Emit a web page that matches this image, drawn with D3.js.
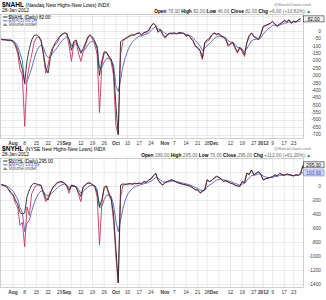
<!DOCTYPE html>
<html>
<head>
<meta charset="utf-8">
<script src="https://cdnjs.cloudflare.com/ajax/libs/d3/7.8.5/d3.min.js"></script>
<style>
body { margin: 0; background: #fff; }
svg { display: block; font-family: "Liberation Sans", Arial, sans-serif; }
</style>
</head>
<body>
<svg id="chart" width="326" height="300"></svg>
<script>
// trading days, Jul 25 2011 - Jan 27 2012
var tradeMonths = [
    ["2011-07", [25,26,27,28,29]],
    ["2011-08", [1,2,3,4,5,8,9,10,11,12,15,16,17,18,19,22,23,24,25,26,29,30,31]],
    ["2011-09", [1,2,6,7,8,9,12,13,14,15,16,19,20,21,22,23,26,27,28,29,30]],
    ["2011-10", [3,4,5,6,7,10,11,12,13,14,17,18,19,20,21,24,25,26,27,28,31]],
    ["2011-11", [1,2,3,4,7,8,9,10,11,14,15,16,17,18,21,22,23,25,28,29,30]],
    ["2011-12", [1,2,5,6,7,8,9,12,13,14,15,16,19,20,21,22,23,27,28,29,30]],
    ["2012-01", [3,4,5,6,9,10,11,12,13,17,18,19,20,23,24,25,26,27]]
];

// $NAHL
var nahlRed = [
    -58, -62, -60, -66, -64,
    -72, -100, -150, -260, -300,
    -645, -320, -230, -160, -80,
    -45, -40, -70, -160, -285,
    -230, -150, -110, -95, -75,
    -40, -25, -15, -20, -100,
    -205, -80, -70, -150,
    -205, -140, -95, -50, -28,
    -55, -90, -160, -552, -230,
    -150, -145, -180, -210, -300,
    -640, -700, -160, -70, -55,
    -45, -35, -26, -30, -18,
    -15, -30, -12, -10, 0,
    30, 52, 40, -10, 5,
    -26, -49, -30, -15, -18,
    -15, -20, -12, -15, -18,
    -37, -30, -49, -70, -105,
    -120, -139, -195,
    -82, -70, -60, -30, -15,
    -26, -20, -37, -45, -60,
    -105, -90, -82, -120, -150,
    -116, -140, -172, -82, -37,
    -15, -40, -49, -60,
    -26, 30, 35, 41,
    50, 63, 45, 30, 45,
    55, 70, 60, 75,
    50, 65, 60, 76, 82
];
var nahlBlack = [
    -55, -58, -60, -62, -62,
    -70, -90, -130, -200, -260,
    -350, -200, -120, -60, -30,
    -26, -35, -60, -150, -250,
    -284, -180, -120, -80, -60,
    -35, -20, -13, -15, -60,
    -130, -70, -60, -110,
    -150, -120, -80, -40, -26,
    -40, -70, -120, -300, -200,
    -140, -143, -170, -190, -260,
    -500, -700, -71, -60, -50,
    -40, -30, -26, -25, -15,
    -12, -25, -10, -5, 5,
    35, 50, 35, -5, 10,
    -20, -40, -25, -15, -15,
    -12, -18, -10, -12, -15,
    -30, -28, -45, -65, -100,
    -110, -130, -180,
    -75, -60, -50, -25, -12,
    -20, -18, -30, -40, -55,
    -95, -85, -75, -110, -140,
    -110, -130, -160, -75, -30,
    -12, -35, -45, -55,
    -20, 32, 38, 45,
    52, 65, 48, 35, 48,
    58, 72, 62, 78,
    55, 68, 62, 76, 82
];
var nahlEma = [
    -55, -57, -58, -60, -61,
    -65, -77, -100, -150, -200,
    -360, -340, -300, -250, -190,
    -140, -110, -95, -110, -160,
    -180, -170, -150, -130, -110,
    -85, -65, -50, -40, -55,
    -100, -95, -85, -105,
    -135, -135, -120, -95, -75,
    -70, -75, -100, -250, -245,
    -210, -185, -185, -195, -230,
    -370, -410, -330, -240, -180,
    -135, -100, -75, -60, -45,
    -35, -33, -26, -20, -13,
    2, 20, 27, 14, 11,
    -1, -17, -21, -19, -19,
    -18, -18, -16, -16, -17,
    -23, -26, -33, -45, -65,
    -83, -102, -133,
    -116, -100, -87, -68, -50,
    -42, -35, -36, -39, -46,
    -66, -74, -77, -91, -111,
    -113, -122, -139, -120, -92,
    -66, -58, -55, -56,
    -46, -21, -2, 13,
    25, 38, 40, 37, 40,
    45, 53, 55, 62,
    58, 60, 60, 65, 68.04
];

// $NYHL
var nyhlRed = [
    14, 5, -10, -50, -104,
    -130, -250, -300, -560, -520,
    -867, -300, -420, -110, -40,
    10, 14, 5, -110, -224,
    -160, -80, -33, 10, 39,
    55, 61, 45, -10, -104,
    14, 0, -10, -120,
    -224, -20, 14, 39, 45,
    14, -10, -160, -843, -243,
    -10, 0, -129, -200, -500,
    -1000, -1386, -170, 14, 20,
    25, 30, 25, 35, 30,
    39, 30, 61, 50, 80,
    100, 140, 181, 86, 39,
    10, 45, 61, 75, 86,
    70, 50, 39, 30, 20,
    14, 5, -10, -33, -57,
    -60, -104, -80, -57,
    86, 61, 75, 110, 133,
    120, 100, 61, 75, 55,
    39, 30, 10, 0, -10,
    61, 45, 181, 160, 229,
    157, 180, 204, 160,
    86, 100, 110, 120,
    130, 157, 140, 181, 160,
    150, 170, 160, 150,
    140, 160, 150, 183, 295
];
var nyhlBlack = [
    20, 10, -5, -40, -90,
    -120, -200, -260, -380, -400,
    -386, -150, -57, 14, 39,
    30, 20, 10, -80, -180,
    -200, -100, -20, 20, 50,
    61, 55, 40, 0, -60,
    10, 5, -20, -90,
    -150, -10, 20, 45, 39,
    20, 0, -100, -296, -200,
    -30, 0, -100, -180, -400,
    -900, -1386, 14, 30, 25,
    30, 35, 28, 40, 35,
    42, 35, 65, 55, 85,
    105, 150, 181, 90, 45,
    15, 50, 65, 80, 90,
    72, 55, 42, 32, 22,
    16, 8, -5, -28, -50,
    -55, -95, -75, -50,
    90, 65, 80, 115, 140,
    125, 105, 65, 78, 58,
    42, 32, 12, 2, -5,
    65, 50, 185, 165, 229,
    160, 185, 204, 165,
    90, 105, 115, 125,
    135, 160, 145, 181, 165,
    155, 172, 165, 155,
    145, 162, 155, 183, 295
];
var nyhlEma = [
    20, 15, 7, -12, -42,
    -72, -130, -185, -310, -380,
    -653, -530, -490, -360, -250,
    -165, -105, -70, -80, -130,
    -140, -118, -90, -55, -25,
    0, 20, 28, 15, -25,
    -10, -5, -5, -45,
    -105, -75, -45, -15, 5,
    8, 2, -50, -310, -290,
    -195, -130, -130, -150, -270,
    -500, -653, -490, -320, -200,
    -120, -70, -40, -15, 0,
    13, 20, 33, 40, 53,
    70, 93, 122, 110, 85,
    60, 55, 57, 63, 70,
    70, 63, 55, 47, 38,
    30, 22, 11, -4, -22,
    -35, -58, -65, -62,
    -13, 12, 33, 58, 83,
    95, 97, 85, 82, 73,
    62, 51, 37, 25, 13,
    29, 34, 83, 109, 149,
    152, 161, 175, 170,
    142, 128, 122, 121,
    124, 135, 137, 151, 154,
    153, 159, 159, 156,
    151, 154, 153, 163, 193.69
];

// axis labels
var xTickDates = ["2011-08-01","2011-08-08","2011-08-15","2011-08-22","2011-08-29","2011-09-01",
    "2011-09-12","2011-09-19","2011-09-26","2011-10-03","2011-10-10","2011-10-17","2011-10-24",
    "2011-11-01","2011-11-07","2011-11-14","2011-11-21","2011-11-28","2011-12-01","2011-12-12",
    "2011-12-19","2011-12-27","2012-01-03","2012-01-09","2012-01-17","2012-01-23"];
var xTickLabels = ["Aug","8","15","22","29","Sep","12","19","26","Oct","10","17","24",
    "Nov","7","14","21","28","Dec","12","19","27","2012","9","17","23"];
var xMonthLabels = ["Aug","Sep","Oct","Nov","Dec","2012"];
var gridWeeks = ["2011-08-01","2011-08-08","2011-08-15","2011-08-22","2011-08-29","2011-09-06",
    "2011-09-12","2011-09-19","2011-09-26","2011-10-03","2011-10-10","2011-10-17","2011-10-24",
    "2011-10-31","2011-11-07","2011-11-14","2011-11-21","2011-11-28","2011-12-05","2011-12-12",
    "2011-12-19","2011-12-27","2012-01-03","2012-01-09","2012-01-17","2012-01-23"];
var nahlTicks = [0,-50,-100,-150,-200,-250,-300,-350,-400,-450,-500,-550,-600,-650,-700];
var nahlGrid = [100,50,0,-50,-100,-150,-200,-250,-300,-350,-400,-450,-500,-550,-600,-650,-700];
var nyhlTicks = [0,-200,-400,-600,-800,-1000,-1200,-1400];
var nyhlGrid = [200,0,-200,-400,-600,-800,-1000,-1200,-1400];

var dates = [];
tradeMonths.forEach(function(m) {
    m[1].forEach(function(d) { dates.push(m[0] + "-" + (d < 10 ? "0" + d : d)); });
});

var svg = d3.select("#chart");
var xScale = d3.scalePoint().domain(dates).range([1.3, 303]);
var left = 0.5, right = 303.5;

function panel(opt) {
    var g = svg.append("g");
    var y = d3.scaleLinear().domain(opt.domain).range([opt.bottom, opt.top]);

    // grid
    g.selectAll(".hg").data(opt.grid).enter().append("line")
        .attr("x1", left).attr("x2", right)
        .attr("y1", function(d) { return Math.round(y(d)) + 0.5; })
        .attr("y2", function(d) { return Math.round(y(d)) + 0.5; })
        .style("stroke", "#dcdcdc").style("stroke-width", 0.6);
    g.selectAll(".vg").data(gridWeeks).enter().append("line")
        .attr("x1", function(d) { return xScale(d); })
        .attr("x2", function(d) { return xScale(d); })
        .attr("y1", opt.top).attr("y2", opt.bottom)
        .style("stroke", "#dcdcdc").style("stroke-width", 0.6);
    g.append("rect")
        .attr("x", left).attr("y", opt.top + 0.5)
        .attr("width", right - left).attr("height", opt.bottom - opt.top)
        .style("fill", "none").style("stroke", "#b0b0b0").style("stroke-width", 0.6);

    // y labels
    g.selectAll(".yl").data(opt.ticks).enter().append("text")
        .attr("x", 321).attr("y", function(d) { return y(d) + 1.7; })
        .attr("text-anchor", "end")
        .style("font-size", "4.8px").style("fill", "#444")
        .text(function(d) { return d; });

    // x labels
    g.selectAll(".xl").data(xTickDates).enter().append("text")
        .attr("x", function(d) { return xScale(d); })
        .attr("y", opt.bottom + 6.5)
        .attr("text-anchor", "middle")
        .style("font-size", "4.8px")
        .style("font-weight", function(d, i) { return xMonthLabels.indexOf(xTickLabels[i]) >= 0 ? "bold" : "normal"; })
        .style("fill", "#333")
        .text(function(d, i) { return xTickLabels[i]; });

    // lines
    var line = d3.line()
        .x(function(d) { return xScale(d.date); })
        .y(function(d) { return y(d.v); });
    opt.series.forEach(function(s) {
        g.append("path")
            .datum(dates.map(function(d, i) { return {date: d, v: s.values[i]}; }))
            .attr("d", line)
            .style("fill", "none").style("stroke", s.color)
            .style("stroke-width", 0.9).style("stroke-linejoin", "round");
    });

    // value boxes
    opt.boxes.forEach(function(b) {
        var by = y(b.value);
        g.append("rect")
            .attr("x", 303.5).attr("y", by - 3 + b.shift)
            .attr("width", 20.5).attr("height", 6)
            .style("fill", b.fill).style("stroke", b.stroke).style("stroke-width", 0.6);
        g.append("text")
            .attr("x", 313.7).attr("y", by + 1.8 + b.shift)
            .attr("text-anchor", "middle")
            .style("font-size", "4.8px").style("fill", b.text)
            .text(b.value.toFixed(2));
    });

    // header
    var t = g.append("text").attr("x", 2).attr("y", opt.top - 7.5).style("fill", "#000");
    t.append("tspan").style("font-size", "6.6px").style("font-weight", "bold").text(opt.symbol);
    t.append("tspan").style("font-size", "5px").attr("dx", 1.5).text(opt.name);
    g.append("text").attr("x", 2).attr("y", opt.top - 2)
        .style("font-size", "4.8px").style("fill", "#000").text("28-Jan-2012");
    g.append("text").attr("x", 311).attr("y", opt.top - 8.5).attr("text-anchor", "end")
        .style("font-size", "4.3px").style("fill", "#777").text("@StockCharts.com");
    var h = g.append("text").attr("x", 311).attr("y", opt.top - 1.5).attr("text-anchor", "end")
        .style("font-size", "4.8px");
    opt.quote.forEach(function(q) {
        h.append("tspan").style("font-weight", "bold").style("fill", "#000").text(q[0] + " ");
        h.append("tspan").style("fill", "#666").text(q[1] + " ");
    });
    h.append("tspan").style("fill", "#2a8a2a").text("▲");

    // legend
    var leg = [
        {dash: "#222", label: opt.symbol + " (Daily) " + opt.last, color: "#000"},
        {dash: "#4a5ab8", label: "EMA(5) " + opt.ema, color: "#4a5ab8"}
    ];
    leg.forEach(function(l, i) {
        var ly = opt.top + 4.5 + i * 3.8;
        g.append("line").attr("x1", 3).attr("x2", 7.5).attr("y1", ly - 1.5).attr("y2", ly - 1.5)
            .style("stroke", l.dash).style("stroke-width", 0.9);
        g.append("text").attr("x", 8.5).attr("y", ly)
            .style("font-size", "4.6px").style("fill", l.color).text(l.label);
    });
    var vy = opt.top + 4.5 + 2 * 3.8;
    g.append("path").attr("d", "M3," + vy + "L5," + (vy - 3) + "L7.5," + vy + "Z")
        .style("fill", "#888");
    g.append("text").attr("x", 8.5).attr("y", vy)
        .style("font-size", "4.6px").style("fill", "#555").text("Volume undef");
}

panel({
    top: 14, bottom: 138, domain: [-723, 115],
    grid: nahlGrid, ticks: nahlTicks,
    symbol: "$NAHL", name: "(Nasdaq New Highs-New Lows) INDX",
    last: "82.00", ema: "68.04",
    quote: [["Open", "78.00"], ["High", "82.00"], ["Low", "46.00"], ["Close", "82.00"], ["Chg", "+6.00 (+10.81%)"]],
    series: [
        {values: nahlEma, color: "#5262c4"},
        {values: nahlRed, color: "#c8365e"},
        {values: nahlBlack, color: "#2a2a2a"}
    ],
    boxes: [{value: 82, shift: 0, fill: "#f4f4f4", stroke: "#222", text: "#000"}]
});

panel({
    top: 158, bottom: 287, domain: [-1443, 400],
    grid: nyhlGrid, ticks: nyhlTicks,
    symbol: "$NYHL", name: "(NYSE New Highs-New Lows) INDX",
    last: "295.00", ema: "193.69",
    quote: [["Open", "189.00"], ["High", "295.00"], ["Low", "76.00"], ["Close", "295.00"], ["Chg", "+112.00 (+61.20%)"]],
    series: [
        {values: nyhlEma, color: "#5262c4"},
        {values: nyhlRed, color: "#c8365e"},
        {values: nyhlBlack, color: "#2a2a2a"}
    ],
    boxes: [
        {value: 295, shift: -0.5, fill: "#f4f4f4", stroke: "#222", text: "#000"},
        {value: 193.69, shift: 0.5, fill: "#d4d8f4", stroke: "#6a78c8", text: "#3a48a8"}
    ]
});
</script>
</body>
</html>
